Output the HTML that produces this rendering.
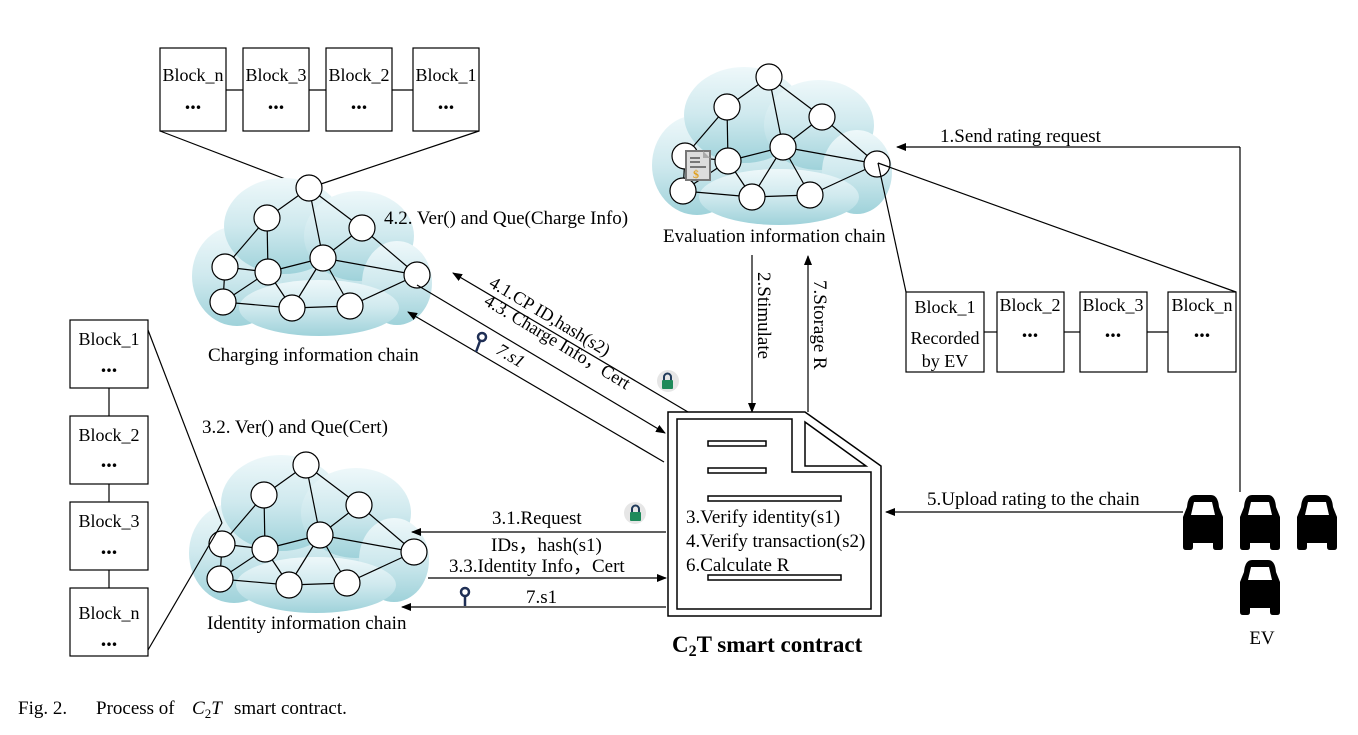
<!DOCTYPE html>
<html><head><meta charset="utf-8"><style>
html,body{margin:0;padding:0;background:#fff;}
svg text{font-family:"Liberation Serif",serif;fill:#000;}
</style></head><body>
<svg width="1358" height="730" viewBox="0 0 1358 730" xmlns="http://www.w3.org/2000/svg">
<defs>
<linearGradient id="cg" x1="0" y1="0" x2="0" y2="1">
<stop offset="0" stop-color="#eef8fa"/><stop offset="0.5" stop-color="#cfe9ee"/><stop offset="1" stop-color="#9fd2da"/>
</linearGradient>
<marker id="ah" markerWidth="10" markerHeight="8" refX="9" refY="4" orient="auto" markerUnits="userSpaceOnUse">
<path d="M0,0 L10,4 L0,8 z" fill="#000"/></marker>
<g id="net" stroke="#000" stroke-width="1.2">
<g stroke="none" fill="url(#cg)">
<ellipse cx="5" cy="85" rx="110" ry="50"/>
<ellipse cx="-72" cy="88" rx="45" ry="50"/>
<ellipse cx="-25" cy="38" rx="60" ry="48"/>
<ellipse cx="50" cy="48" rx="55" ry="45"/>
<ellipse cx="88" cy="95" rx="35" ry="42"/>
<ellipse cx="10" cy="120" rx="80" ry="28"/>
</g>
<g fill="none">
<line x1="0" y1="0" x2="-42" y2="30"/><line x1="0" y1="0" x2="53" y2="40"/><line x1="0" y1="0" x2="14" y2="70"/>
<line x1="-42" y1="30" x2="-84" y2="79"/><line x1="-42" y1="30" x2="-41" y2="84"/>
<line x1="53" y1="40" x2="14" y2="70"/><line x1="53" y1="40" x2="108" y2="87"/>
<line x1="-84" y1="79" x2="-41" y2="84"/><line x1="-84" y1="79" x2="-86" y2="114"/>
<line x1="-41" y1="84" x2="14" y2="70"/><line x1="-41" y1="84" x2="-86" y2="114"/><line x1="-41" y1="84" x2="-17" y2="120"/>
<line x1="14" y1="70" x2="108" y2="87"/><line x1="14" y1="70" x2="-17" y2="120"/><line x1="14" y1="70" x2="41" y2="118"/>
<line x1="-86" y1="114" x2="-17" y2="120"/><line x1="-17" y1="120" x2="41" y2="118"/><line x1="41" y1="118" x2="108" y2="87"/>
</g>
<g fill="#fff">
<circle cx="0" cy="0" r="13"/><circle cx="-42" cy="30" r="13"/><circle cx="53" cy="40" r="13"/>
<circle cx="-84" cy="79" r="13"/><circle cx="14" cy="70" r="13"/><circle cx="-41" cy="84" r="13"/>
<circle cx="108" cy="87" r="13"/><circle cx="-86" cy="114" r="13"/><circle cx="-17" cy="120" r="13"/>
<circle cx="41" cy="118" r="13"/>
</g>
</g>
<path id="car" d="M4,12 Q5,0 12,0 L28,0 Q35,0 36,12 L40,22 L40,52 Q40,55 37,55 L33,55 Q30,55 30,52 L30,48 L10,48 L10,52 Q10,55 7,55 L3,55 Q0,55 0,52 L0,22 Z M8,20 L32,20 L29,7 L11,7 Z" fill="#000" fill-rule="evenodd"/>
</defs>

<g fill="#fff" stroke="#000" stroke-width="1.2">
<line x1="226" y1="90" x2="243" y2="90"/><line x1="309" y1="90" x2="326" y2="90"/><line x1="392" y1="90" x2="413" y2="90"/>
<rect x="160" y="48" width="66" height="83"/><rect x="243" y="48" width="66" height="83"/>
<rect x="326" y="48" width="66" height="83"/><rect x="413" y="48" width="66" height="83"/>
<line x1="160" y1="131" x2="309" y2="188"/><line x1="479" y1="131" x2="309" y2="188"/>
</g>
<g font-size="18" text-anchor="middle">
<text x="193" y="81">Block_n</text><text x="276" y="81">Block_3</text><text x="359" y="81">Block_2</text><text x="446" y="81">Block_1</text>
</g>
<g font-size="22" font-weight="bold" text-anchor="middle">
<text x="193" y="109">...</text><text x="276" y="109">...</text><text x="359" y="109">...</text><text x="446" y="109">...</text>
</g>

<use href="#net" x="309" y="188"/>
<use href="#net" x="306" y="465"/>
<use href="#net" x="769" y="77"/>

<rect x="686" y="151" width="24" height="29" fill="#ddd" stroke="#777" stroke-width="2"/>
<path d="M703,151 L710,158 L703,158 Z" fill="#aaa"/>
<line x1="690" y1="158" x2="700" y2="158" stroke="#555" stroke-width="1.5"/>
<line x1="690" y1="162" x2="700" y2="162" stroke="#555" stroke-width="1.5"/>
<line x1="690" y1="167" x2="706" y2="167" stroke="#555" stroke-width="1.5"/>
<text x="693" y="178" font-size="12" style="fill:#e0a020" font-weight="bold">$</text>

<g font-size="19">
<text x="384" y="224">4.2. Ver() and Que(Charge Info)</text>
<text x="208" y="361">Charging information chain</text>
<text x="207" y="629">Identity information chain</text>
<text x="663" y="242">Evaluation information chain</text>
<text x="202" y="433">3.2. Ver() and Que(Cert)</text>
</g>

<g fill="#fff" stroke="#000" stroke-width="1.2">
<line x1="109" y1="388" x2="109" y2="588"/>
<line x1="148" y1="330" x2="222" y2="523"/><line x1="222" y1="523" x2="148" y2="650"/>
<rect x="70" y="320" width="78" height="68"/><rect x="70" y="416" width="78" height="68"/>
<rect x="70" y="502" width="78" height="68"/><rect x="70" y="588" width="78" height="68"/>
</g>
<g font-size="18" text-anchor="middle">
<text x="109" y="345">Block_1</text><text x="109" y="441">Block_2</text><text x="109" y="527">Block_3</text><text x="109" y="619">Block_n</text>
</g>
<g font-size="22" font-weight="bold" text-anchor="middle">
<text x="109" y="372">...</text><text x="109" y="467">...</text><text x="109" y="554">...</text><text x="109" y="646">...</text>
</g>

<g fill="#fff" stroke="#000" stroke-width="1.2">
<line x1="878" y1="163" x2="906" y2="292"/><line x1="878" y1="163" x2="1236" y2="292"/>
<line x1="984" y1="332" x2="997" y2="332"/><line x1="1064" y1="332" x2="1080" y2="332"/><line x1="1147" y1="332" x2="1168" y2="332"/>
<rect x="906" y="292" width="78" height="80"/><rect x="997" y="292" width="67" height="80"/>
<rect x="1080" y="292" width="67" height="80"/><rect x="1168" y="292" width="68" height="80"/>
</g>
<g font-size="18" text-anchor="middle">
<text x="945" y="313">Block_1</text><text x="945" y="344">Recorded</text><text x="945" y="367">by EV</text>
<text x="1030" y="311">Block_2</text><text x="1113" y="311">Block_3</text><text x="1202" y="311">Block_n</text>
</g>
<g font-size="22" font-weight="bold" text-anchor="middle">
<text x="1030" y="337">...</text><text x="1113" y="337">...</text><text x="1202" y="337">...</text>
</g>

<g stroke="#000" stroke-width="1.2" fill="none">
<line x1="1240" y1="147" x2="1240" y2="492"/>
<line x1="1240" y1="147" x2="897" y2="147" marker-end="url(#ah)"/>
<line x1="1183" y1="512" x2="886" y2="512" marker-end="url(#ah)"/>
<line x1="752" y1="255" x2="752" y2="412" marker-end="url(#ah)"/>
<line x1="808" y1="412" x2="808" y2="256" marker-end="url(#ah)"/>
<line x1="688" y1="412" x2="453" y2="273" marker-end="url(#ah)"/>
<line x1="417" y1="285" x2="665" y2="433" marker-end="url(#ah)"/>
<line x1="664" y1="462" x2="408" y2="312" marker-end="url(#ah)"/>
<line x1="666" y1="532" x2="412" y2="532" marker-end="url(#ah)"/>
<line x1="428" y1="578" x2="666" y2="578" marker-end="url(#ah)"/>
<line x1="666" y1="607" x2="402" y2="607" marker-end="url(#ah)"/>
</g>
<g font-size="19">
<text x="940" y="142">1.Send rating request</text>
<text x="927" y="505">5.Upload rating to the chain</text>
<text transform="translate(758,272) rotate(90)">2.Stimulate</text>
<text transform="translate(814,280) rotate(90)">7.Storage R</text>
<text x="492" y="524">3.1.Request</text>
<text x="491" y="551">IDs，hash(s1)</text>
<text x="449" y="572">3.3.Identity Info，Cert</text>
<text x="526" y="603">7.s1</text>
</g>
<g font-size="18">
<text transform="translate(488,286) rotate(31)">4.1.CP ID,hash(s2)</text>
<text transform="translate(483,304) rotate(31)">4.3. Charge Info，Cert</text>
<text transform="translate(495,353) rotate(31)" font-style="italic">7.s1</text>
</g>

<g stroke="#1f2f55" stroke-width="2.5" fill="none">
<circle cx="482" cy="337" r="4"/><line x1="480" y1="341" x2="476" y2="352"/>
<circle cx="465" cy="592" r="4"/><line x1="465" y1="596" x2="465" y2="606"/>
</g>
<g>
<circle cx="668" cy="381" r="11" fill="#e6e6e6"/>
<rect x="662" y="380" width="11" height="9" rx="1" fill="#1e8a5a"/>
<path d="M664,380 v-3 a3.5,3.5 0 0 1 7,0 v3" stroke="#1f3a5a" stroke-width="2" fill="none"/>
<circle cx="635" cy="513" r="11" fill="#e6e6e6"/>
<rect x="630" y="512" width="11" height="9" rx="1" fill="#1e8a5a"/>
<path d="M632,512 v-3 a3.5,3.5 0 0 1 7,0 v3" stroke="#1f3a5a" stroke-width="2" fill="none"/>
</g>

<g stroke="#000" stroke-width="1.5" fill="#fff">
<path d="M668,412 L805,412 L881,466 L881,616 L668,616 Z"/>
<path d="M677,419 L792,419 L792,472 L871,472 L871,609 L677,609 Z"/>
<path d="M805,422 L805,466 L866,466 Z"/>
<rect x="708" y="441" width="58" height="5"/>
<rect x="708" y="468" width="58" height="5"/>
<rect x="708" y="496" width="133" height="5"/>
<rect x="708" y="575" width="133" height="5"/>
</g>
<g font-size="19">
<text x="686" y="523">3.Verify identity(s1)</text>
<text x="686" y="547">4.Verify transaction(s2)</text>
<text x="686" y="571">6.Calculate R</text>
</g>
<text x="672" y="652" font-size="23" font-weight="bold">C<tspan font-size="16" dy="4">2</tspan><tspan dy="-4">T smart contract</tspan></text>

<use href="#car" x="1183" y="495"/>
<use href="#car" x="1240" y="495"/>
<use href="#car" x="1297" y="495"/>
<use href="#car" x="1240" y="560"/>
<text x="1262" y="644" font-size="19" text-anchor="middle">EV</text>

<g font-size="19">
<text x="18" y="714">Fig. 2.</text>
<text x="96" y="714">Process of</text>
<text x="192" y="714" font-style="italic">C<tspan font-size="13" dy="4" font-style="normal">2</tspan><tspan dy="-4">T</tspan></text>
<text x="234" y="714">smart contract.</text>
</g>
</svg>
</body></html>
